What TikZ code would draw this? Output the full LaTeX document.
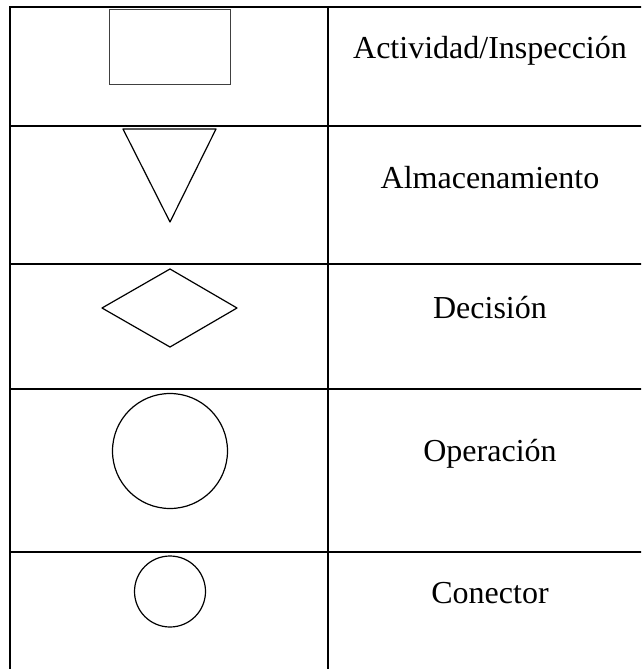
\documentclass[tikz,border=0pt]{standalone}
\usepackage{fontspec}
\setmainfont{Liberation Serif}
\usetikzlibrary{positioning}

\begin{document}
\begin{tikzpicture}[x=1pt,y=-1pt]
	\tikzset{rule/.style={line width=2.3pt},
		sym/.style={line width=1.2pt,line join=round},
		lbl/.style={font=\fontsize{32}{38}\selectfont,inner sep=0pt,anchor=base}}
	
	\clip (0,0) rectangle (641,669);
	
	% table lines
	\draw [rule] (10,700) -- (10,7) -- (660,7);
	\draw [rule] (328,7) -- (328,700);
	\foreach \y in {126,264,389,552}
	    \draw [rule] (10,\y) -- (660,\y);
	
	% symbols
	\draw [line width=0.8pt,draw=black!75] (109,9) rectangle (230,84);
	\draw [sym] (123,129) -- (216,129) -- (170,222) -- cycle;
	\draw [sym] (170,269) -- (237,308) -- (170,347) -- (102,308) -- cycle;
	\draw [sym] (170,451) circle [radius=57.5];
	\draw [sym] (170,591.5) circle [radius=35.5];
	
	% texts
	\node [lbl] (act) at (490,59) {Actividad/Inspección};
	\node [lbl] (alm) at (490,188) {Almacenamiento};
	\node [lbl] (dec) at (490,318) {Decisión};
	\node [lbl] (ope) at (490,461) {Operación};
	\node [lbl] (con) at (490,603) {Conector};
	
\end{tikzpicture}
\end{document}
